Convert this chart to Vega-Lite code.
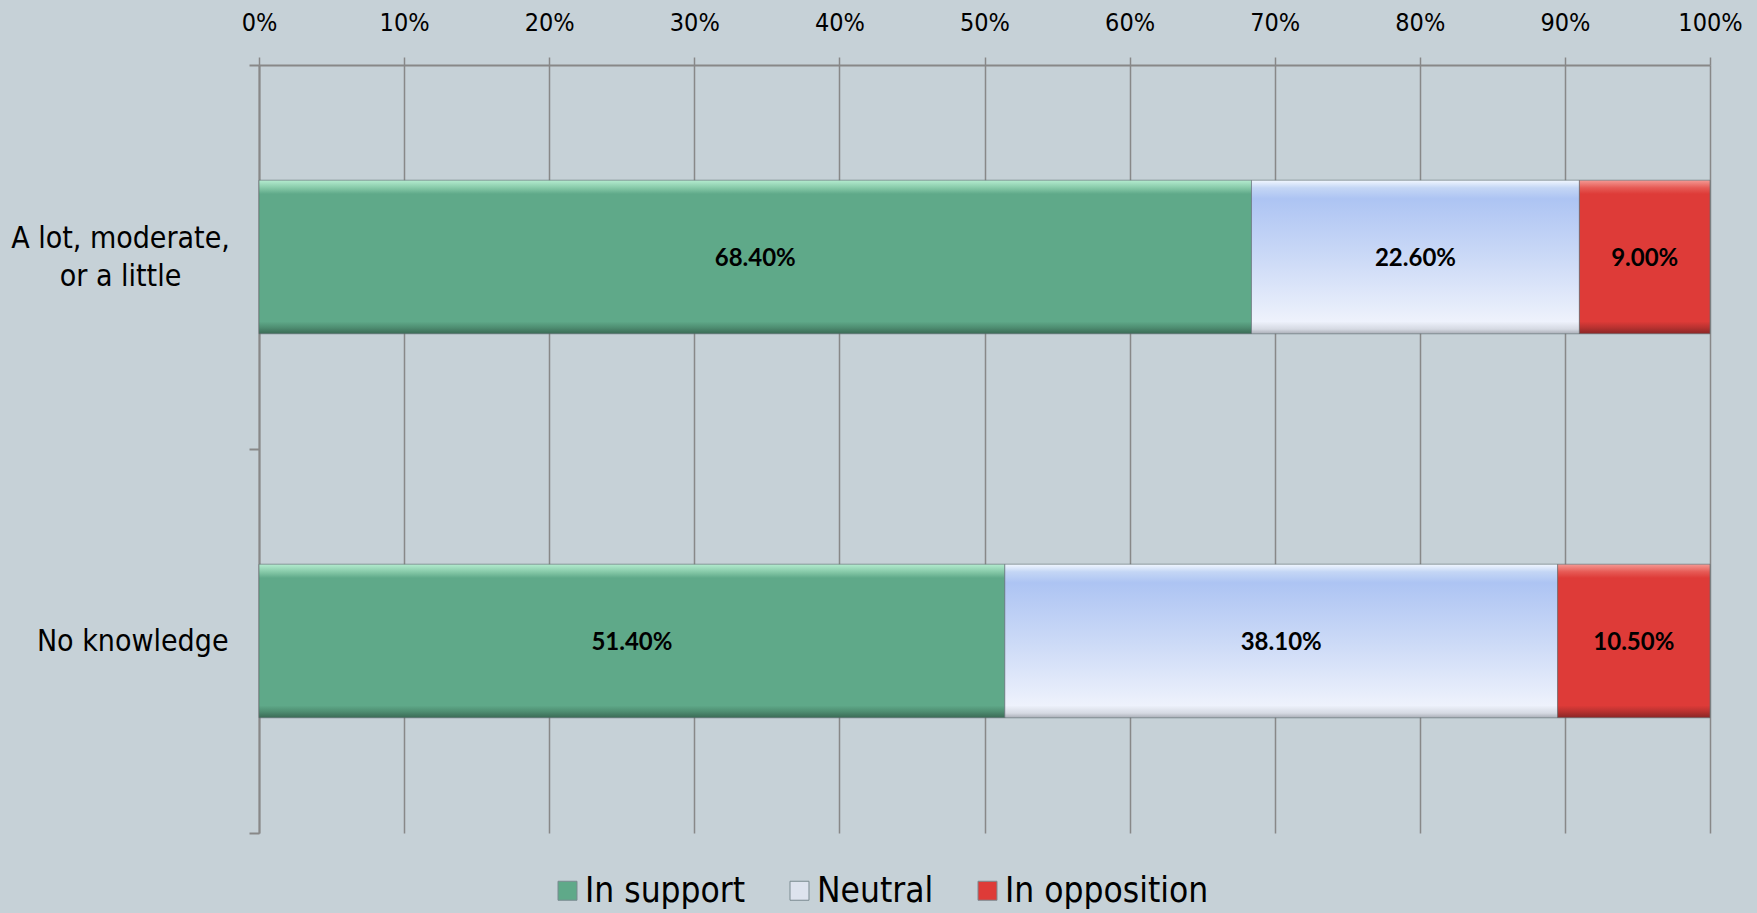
{
  "$schema": "https://vega.github.io/schema/vega-lite/v6.json",
  "autosize": {"type": "none"},
  "width": 1451,
  "height": 768,
  "padding": {"left": 259, "top": 65, "right": 47, "bottom": 80},
  "background": "#c6d1d7",
  "config": {"view": {"stroke": null}, "font": "Liberation Sans Narrow, DejaVu Sans Condensed, Roboto, sans-serif"},
  "data": {
    "values": [
      {"group": "A lot, moderate, or a little", "response": "In support", "share": 0.684, "series": 1},
      {"group": "A lot, moderate, or a little", "response": "Neutral", "share": 0.226, "series": 2},
      {"group": "A lot, moderate, or a little", "response": "In opposition", "share": 0.09, "series": 3},
      {"group": "No knowledge", "response": "In support", "share": 0.514, "series": 1},
      {"group": "No knowledge", "response": "Neutral", "share": 0.381, "series": 2},
      {"group": "No knowledge", "response": "In opposition", "share": 0.105, "series": 3}
    ]
  },
  "encoding": {
    "y": {
      "field": "group",
      "type": "nominal",
      "sort": ["A lot, moderate, or a little", "No knowledge"],
      "title": null,
      "scale": {"paddingInner": 0, "paddingOuter": 0},
      "axis": {
        "tickBand": "extent",
        "ticks": true,
        "tickSize": 10,
        "tickColor": "#888888",
        "tickWidth": 2,
        "domainColor": "#888888",
        "domainWidth": 2,
        "labelFont": "Liberation Sans Narrow, DejaVu Sans Condensed, Roboto, sans-serif",
        "labelFontSize": 30,
        "labelColor": "#000000",
        "labelAlign": {"condition": {"test": "datum.value == 'No knowledge'", "value": "right"}, "value": "center"},
        "labelPadding": {"condition": {"test": "datum.value == 'No knowledge'", "value": 21}, "value": 129},
        "labelOffset": {"condition": {"test": "datum.value == 'No knowledge'", "value": 0}, "value": -19},
        "labelBaseline": "middle",
        "labelLineHeight": 38,
        "labelLimit": 0,
        "labelExpr": "datum.label == 'A lot, moderate, or a little' ? ['A lot, moderate,', 'or a little'] : datum.label"
      }
    }
  },
  "layer": [
    {
      "mark": {"type": "bar", "height": {"band": 0.4}, "stroke": "#5e6a70", "strokeWidth": 1, "strokeOpacity": 0.6},
      "encoding": {
        "x": {
          "field": "share",
          "type": "quantitative",
          "stack": "zero",
          "title": null,
          "scale": {"domain": [0, 1], "nice": false},
          "axis": {
            "orient": "top",
            "format": ".0%",
            "values": [0, 0.1, 0.2, 0.3, 0.4, 0.5, 0.6, 0.7, 0.8, 0.9, 1],
            "grid": true,
            "gridColor": "#888888",
            "gridWidth": 1.5,
            "domainColor": "#888888",
            "domainWidth": 2,
            "tickColor": "#888888",
            "tickWidth": 1.5,
            "tickSize": 8,
            "labelFont": "Liberation Sans Narrow, DejaVu Sans Condensed, Roboto, sans-serif",
            "labelFontSize": 25,
            "labelColor": "#000000",
            "labelPadding": 22,
            "labelFlush": false
          }
        },
        "order": {"field": "series", "type": "quantitative"},
        "color": {
          "field": "response",
          "type": "nominal",
          "sort": ["In support", "Neutral", "In opposition"],
          "scale": {
            "domain": ["In support", "Neutral", "In opposition"],
            "range": ["#5fa989", "#dde3ee", "#de3b38"]
          },
          "legend": {
            "orient": "none",
            "legendX": 291,
            "legendY": 808,
            "direction": "horizontal",
            "title": null,
            "symbolType": "square",
            "symbolSize": 360,
            "symbolStrokeColor": "#7a8a90",
            "symbolStrokeWidth": 1,
            "labelFont": "Liberation Sans Narrow, DejaVu Sans Condensed, Roboto, sans-serif",
            "labelFontSize": 35,
            "labelColor": "#000000",
            "labelLimit": 0,
            "labelOffset": 0,
            "columnPadding": 36,
            "padding": 0
          },
          "condition": [
            {"test": "datum.response === 'In support'", "value": {"gradient": "linear", "x1": 0, "y1": 0, "x2": 0, "y2": 1, "stops": [
              {"offset": 0, "color": "#b5ecd0"}, {"offset": 0.05, "color": "#86c9a8"}, {"offset": 0.09, "color": "#5fa989"},
              {"offset": 0.92, "color": "#5fa989"}, {"offset": 0.96, "color": "#4e8d71"}, {"offset": 1, "color": "#3a6a55"}]}},
            {"test": "datum.response === 'Neutral'", "value": {"gradient": "linear", "x1": 0, "y1": 0, "x2": 0, "y2": 1, "stops": [
              {"offset": 0, "color": "#f2f8ff"}, {"offset": 0.05, "color": "#c4d6f5"}, {"offset": 0.12, "color": "#adc4f3"},
              {"offset": 0.55, "color": "#cfdcf7"}, {"offset": 0.92, "color": "#eef2fc"}, {"offset": 0.97, "color": "#d5d9e2"}, {"offset": 1, "color": "#a9adb6"}]}},
            {"test": "datum.response === 'In opposition'", "value": {"gradient": "linear", "x1": 0, "y1": 0, "x2": 0, "y2": 1, "stops": [
              {"offset": 0, "color": "#f59a94"}, {"offset": 0.05, "color": "#e65a55"}, {"offset": 0.09, "color": "#de3b38"},
              {"offset": 0.92, "color": "#de3b38"}, {"offset": 0.96, "color": "#b83230"}, {"offset": 1, "color": "#8a2626"}]}}
          ]
        }
      }
    },
    {
      "mark": {"type": "text", "font": "Lato", "fontSize": 24, "fontWeight": "bold", "color": "#000000", "baseline": "middle", "align": "center", "dy": 2},
      "encoding": {
        "x": {"field": "share", "type": "quantitative", "stack": "zero", "bandPosition": 0.5},
        "order": {"field": "series", "type": "quantitative"},
        "detail": {"field": "response"},
        "text": {"field": "share", "type": "quantitative", "format": ".2%"}
      }
    }
  ]
}
